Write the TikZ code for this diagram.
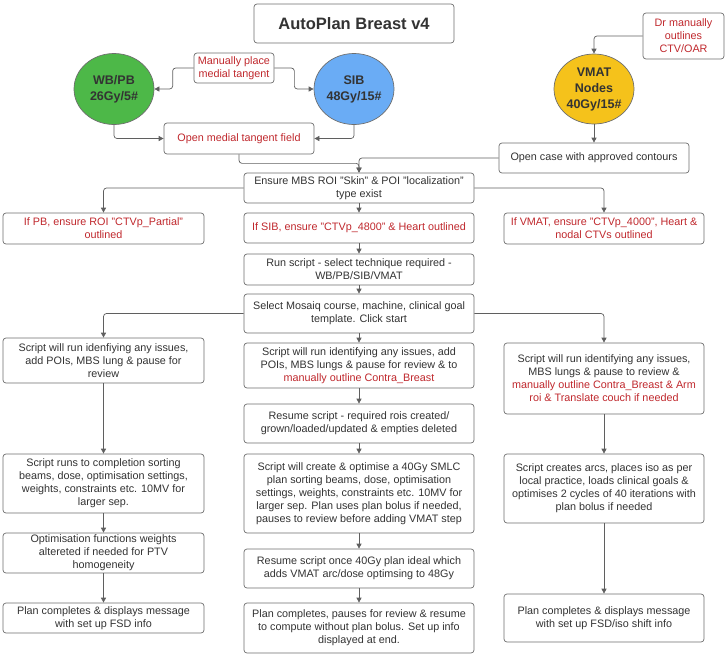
\documentclass[tikz,border=0pt]{standalone}
\usepackage{fontspec}
\setmainfont{Liberation Sans}
\usetikzlibrary{arrows.meta,shapes.geometric}
\definecolor{txt}{RGB}{51,51,51}
\definecolor{redt}{RGB}{192,40,45}
\definecolor{bordc}{RGB}{110,110,110}
\definecolor{linec}{RGB}{95,95,95}
\definecolor{greenc}{RGB}{77,184,72}
\definecolor{bluec}{RGB}{106,172,245}
\definecolor{yellowc}{RGB}{245,194,27}
\begin{document}
\begin{tikzpicture}[x=1pt,y=-1pt,
  box/.style={draw=bordc, rounded corners=3pt, fill=white, align=center, inner sep=0pt,
    font=\fontsize{10.8}{13}\selectfont, text=txt, line width=0.7pt},
  redbox/.style={box, text=redt},
  circ/.style={ellipse, draw=bordc, line width=0.7pt, inner sep=0pt, align=center,
    minimum width=80pt, minimum height=71pt, text=txt,
    font=\fontsize{12.5}{16}\selectfont\bfseries},
  conn/.style={draw=linec, line width=0.7pt, rounded corners=3pt,
    -{Triangle[length=5pt,width=5pt]}},
]
\useasboundingbox (0,0) rectangle (728,656);

% title
\node[box, minimum width=200pt, minimum height=39pt, font=\fontsize{16.5}{19}\selectfont\bfseries] (title) at (354,23.5) {AutoPlan Breast v4};

% top row
\node[circ, fill=greenc] (wb) at (114,89) {WB/PB\\26Gy/5\#};
\node[circ, fill=bluec] (sib) at (354,89) {SIB\\48Gy/15\#};
\node[circ, fill=yellowc, minimum height=70pt] (vm) at (594,89) {VMAT\\Nodes\\40Gy/15\#};
\node[redbox, minimum width=80pt, minimum height=30pt] (manual) at (234,68) {Manually place\\medial tangent};
\node[redbox, minimum width=81pt, minimum height=46pt] (dr) at (683.5,36) {Dr manually\\outlines\\CTV/OAR};
\node[redbox, minimum width=150pt, minimum height=31pt] (opentan) at (239,138.5) {Open medial tangent field};
\node[box, minimum width=190pt, minimum height=30pt] (opencase) at (594,158) {Open case with approved contours};

% middle column
\node[box, minimum width=230pt, minimum height=30pt] (ensure) at (359,188) {Ensure MBS ROI "Skin" \& POI "localization"\\type exist};
\node[redbox, minimum width=201pt, minimum height=31pt] (pb) at (103.5,228.5) {If PB, ensure ROI "CTVp\_Partial"\\outlined};
\node[redbox, minimum width=230pt, minimum height=30pt] (sibbox) at (359,228) {If SIB, ensure "CTVp\_4800" \& Heart outlined};
\node[redbox, minimum width=200pt, minimum height=31pt] (vmbox) at (604,228.5) {If VMAT, ensure "CTVp\_4000", Heart \&\\nodal CTVs outlined};
\node[box, minimum width=230pt, minimum height=31pt] (run) at (359,269.5) {Run script - select technique required -\\WB/PB/SIB/VMAT};
\node[box, minimum width=230pt, minimum height=39pt] (select) at (359,313.5) {Select Mosaiq course, machine, clinical goal\\template. Click start};

\node[box, minimum width=230pt, minimum height=45pt] (m2) at (359,365.5) {Script will run identifying any issues, add\\POIs, MBS lungs \& pause for review \& to\\\textcolor{redt}{manually outline Contra\_Breast}};
\node[box, minimum width=230pt, minimum height=39pt] (m3) at (359,423.5) {Resume script - required rois created/\\grown/loaded/updated \& empties deleted};
\node[box, minimum width=230pt, minimum height=79pt] (m4) at (359,493.5) {Script will create \& optimise a 40Gy SMLC\\plan sorting beams, dose, optimisation\\settings, weights, constraints etc. 10MV for\\larger sep. Plan uses plan bolus if needed,\\pauses to review before adding VMAT step};
\node[box, minimum width=230pt, minimum height=39pt] (m5) at (359,568.5) {Resume script once 40Gy plan ideal which\\adds VMAT arc/dose optimsing to 48Gy};
\node[box, minimum width=230pt, minimum height=50pt] (m6) at (359,628) {Plan completes, pauses for review \& resume\\to compute without plan bolus. Set up info\\displayed at end.};

% left column
\node[box, minimum width=201pt, minimum height=45pt] (l1) at (103.5,360.5) {Script will run idenfiying any issues,\\add POIs, MBS lung \& pause for\\review};
\node[box, minimum width=201pt, minimum height=59pt] (l2) at (103.5,483.5) {Script runs to completion sorting\\beams, dose, optimisation settings,\\weights, constraints etc. 10MV for\\larger sep.};
\node[box, minimum width=201pt, minimum height=40pt] (l3) at (103.5,553) {Optimisation functions weights\\altereted if needed for PTV\\homogeneity};
\node[box, minimum width=201pt, minimum height=30pt] (l4) at (103.5,618) {Plan completes \& displays message\\with set up FSD info};

% right column
\node[box, minimum width=200pt, minimum height=71pt] (r1) at (604,378.5) {Script will run identifying any issues,\\MBS lungs \& pause to review \&\\\textcolor{redt}{manually outline Contra\_Breast \& Arm}\\\textcolor{redt}{roi \& Translate couch if needed}};
\node[box, minimum width=200pt, minimum height=69pt] (r2) at (604,488.5) {Script creates arcs, places iso as per\\local practice, loads clinical goals \&\\optimises 2 cycles of 40 iterations with\\plan bolus if needed};
\node[box, minimum width=200pt, minimum height=48pt] (r3) at (604,618) {Plan completes \& displays message\\with set up FSD/iso shift info};

% connectors
\draw[conn] (dr.west) -| (vm.north);
\draw[conn] (manual.west) -- ++(-21,0) |- (wb.east);
\draw[conn] (manual.east) -- ++(20,0) |- (sib.west);
\draw[conn] (wb.south) |- (opentan.west);
\draw[conn] (sib.south) |- (opentan.east);
\draw[conn] (vm.south) -- (opencase.north);
\draw[conn] (opentan.south) -- ++(0,9) -| (ensure.north);
\draw[conn] (opencase.west) -| (ensure.north);
\draw[conn] (ensure.west) -| (pb.north);
\draw[conn] (ensure.east) -| (vmbox.north);
\draw[conn] (ensure) -- (sibbox);
\draw[conn] (sibbox) -- (run);
\draw[conn] (run) -- (select);
\draw[conn] (select.west) -| (l1.north);
\draw[conn] (select.east) -| (r1.north);
\draw[conn] (select) -- (m2);
\draw[conn] (m2) -- (m3);
\draw[conn] (m3) -- (m4);
\draw[conn] (m4) -- (m5);
\draw[conn] (m5) -- (m6);
\draw[conn] (l1) -- (l2);
\draw[conn] (l2) -- (l3);
\draw[conn] (l3) -- (l4);
\draw[conn] (r1) -- (r2);
\draw[conn] (r2) -- (r3);
\end{tikzpicture}
\end{document}
